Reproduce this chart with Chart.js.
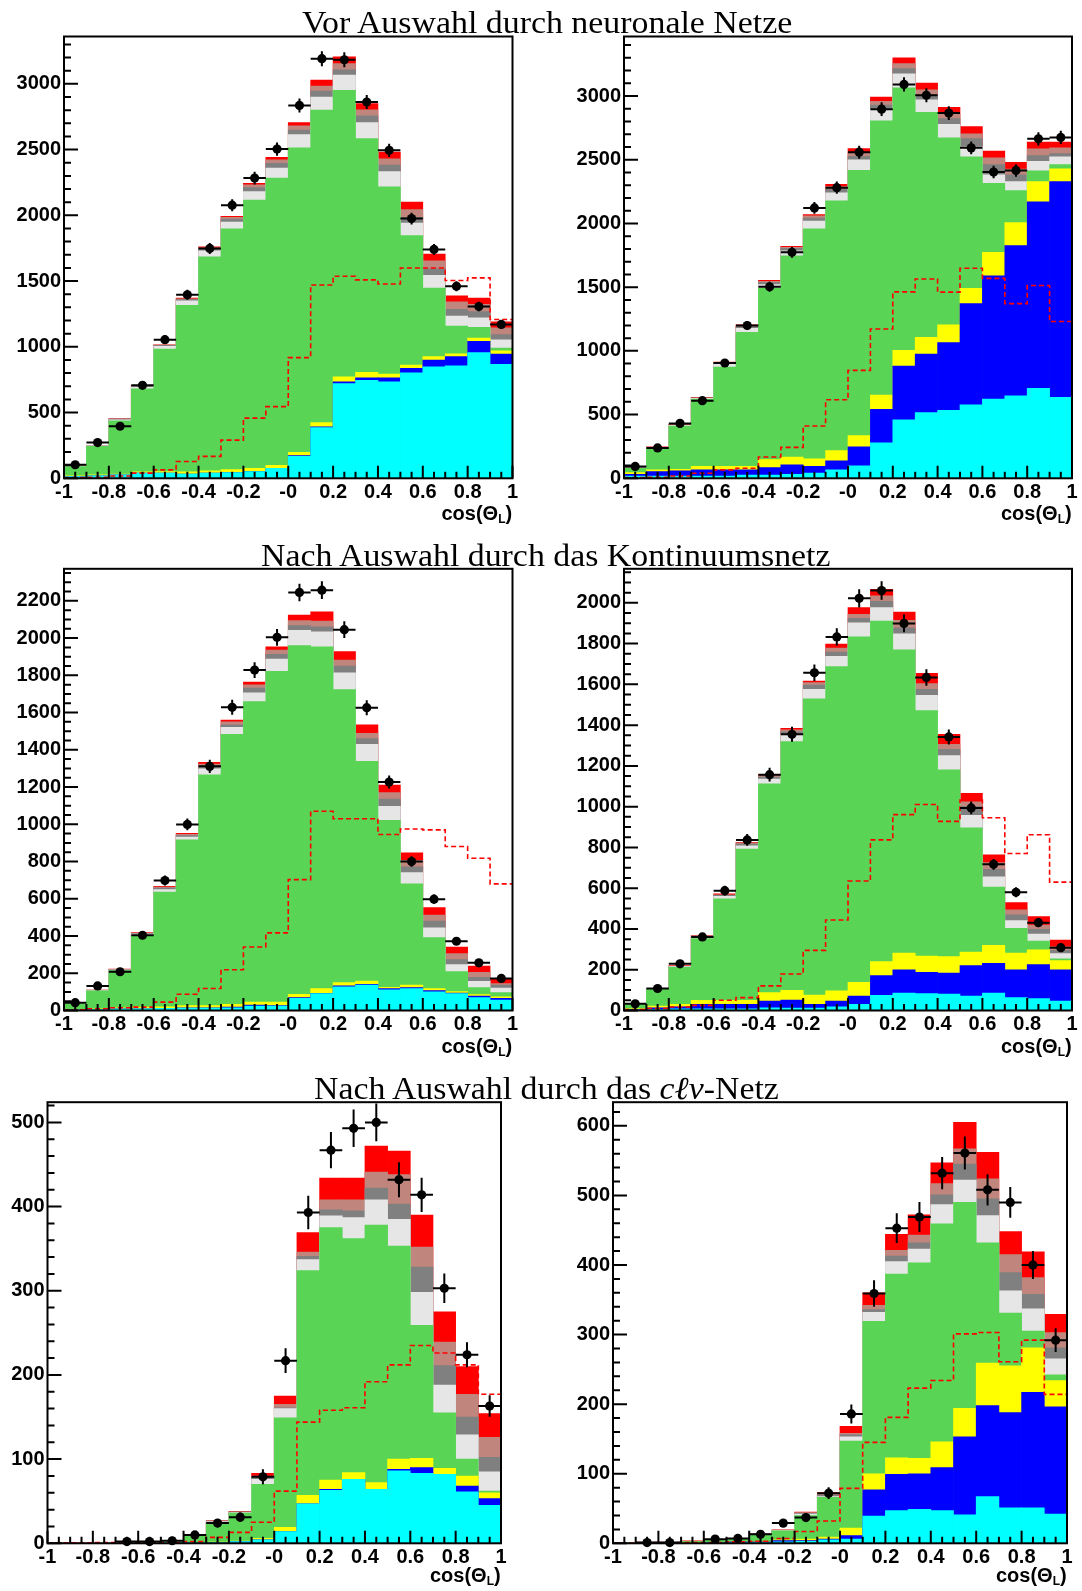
<!DOCTYPE html>
<html>
<head>
<meta charset="utf-8">
<script src="https://cdn.jsdelivr.net/npm/chart.js@4.4.1/dist/chart.umd.min.js"></script>
<style>
  body { margin: 0; background: #fff; width: 1082px; height: 1591px; position: relative; overflow: hidden; }
  canvas { position: absolute; }
  .title { position: absolute; font-family: "Liberation Serif", "DejaVu Serif", serif; font-size: 32px; line-height: 32px;
           white-space: nowrap; color: #000; transform-origin: left top; z-index: 5; }
  .xlab { position: absolute; font-family: "Liberation Sans", Arial, sans-serif; font-weight: bold; font-size: 20px;
          line-height: 20px; white-space: nowrap; color: #000; z-index: 5; }
  .xlab span { font-size: 12px; position: relative; top: 3px; }
</style>
</head>
<body>
<div class="title" data-cx="546.5" data-base="33" data-w="490">Vor Auswahl durch neuronale Netze</div>
<div class="title" data-cx="546" data-base="565.4" data-w="570">Nach Auswahl durch das Kontinuumsnetz</div>
<div class="title" data-cx="546" data-base="1098.8" data-w="465">Nach Auswahl durch das <i>cℓν</i>-Netz</div>

<script>
// bins of cos(theta_L)
const BIN_EDGES = [-1, -0.9, -0.8, -0.7, -0.6, -0.5, -0.4, -0.3, -0.2, -0.1, 0, 0.1, 0.2, 0.3, 0.4, 0.5, 0.6, 0.7, 0.8, 0.9, 1];
const X_TICKS = [-1, -0.8, -0.6, -0.4, -0.2, 0, 0.2, 0.4, 0.6, 0.8, 1];
const X_TICK_LABELS = ['-1', '-0.8', '-0.6', '-0.4', '-0.2', '-0', '0.2', '0.4', '0.6', '0.8', '1'];

// stack tops per bin (cumulative), bottom layer first

// top left: before NN selection
const p1Cyan   = [13, 18, 26, 39, 39, 33, 39, 44, 51, 75, 167, 386, 720, 746, 733, 802, 848, 856, 956, 866];
const p1Blue   = [13, 18, 26, 39, 39, 33, 39, 44, 51, 75, 172, 391, 733, 764, 764, 836, 900, 926, 1041, 944];
const p1Yellow = [18, 26, 33, 49, 51, 49, 57, 67, 75, 98, 198, 424, 771, 805, 792, 861, 926, 946, 1067, 969];
const p1Green  = [90, 244, 437, 681, 982, 1316, 1684, 1897, 2116, 2283, 2514, 2800, 2951, 2584, 2216, 1846, 1447, 1157, 1149, 990];
const p1LGray  = [92, 246, 445, 692, 1003, 1350, 1730, 1949, 2180, 2360, 2615, 2900, 3067, 2705, 2332, 1941, 1543, 1234, 1221, 1054];
const p1Gray   = [93, 247, 450, 698, 1010, 1360, 1746, 1972, 2211, 2396, 2648, 2944, 3106, 2756, 2383, 1985, 1594, 1286, 1268, 1093];
const p1Rose   = [94, 248, 452, 702, 1013, 1365, 1753, 1985, 2232, 2422, 2681, 2982, 3155, 2802, 2430, 2044, 1653, 1342, 1324, 1144];
const p1Red    = [95, 250, 455, 707, 1015, 1370, 1761, 1992, 2244, 2442, 2705, 3029, 3206, 2849, 2481, 2100, 1705, 1388, 1370, 1190];
const p1Data   = [103, 272, 396, 707, 1054, 1396, 1748, 2077, 2283, 2504, 2836, 3191, 3183, 2862, 2494, 1975, 1741, 1460, 1306, 1170];
const p1Dashed = [5, 8, 18, 39, 64, 128, 167, 290, 458, 545, 918, 1470, 1537, 1509, 1478, 1599, 1599, 1504, 1524, 1208];
const p1YTicks = [0, 500, 1000, 1500, 2000, 2500, 3000];

// top right
const p2Cyan   = [18, 18, 18, 18, 18, 26, 26, 32, 40, 66, 98, 278, 458, 516, 534, 577, 622, 648, 706, 635];
const p2Blue   = [32, 53, 58, 66, 66, 66, 85, 106, 93, 138, 246, 542, 881, 974, 1066, 1371, 1588, 1826, 2170, 2328];
const p2Yellow = [45, 66, 71, 93, 93, 93, 146, 167, 153, 217, 336, 654, 1005, 1106, 1204, 1490, 1773, 2006, 2328, 2429];
const p2Green  = [79, 238, 410, 622, 873, 1146, 1490, 1746, 1958, 2178, 2416, 2805, 3064, 2871, 2672, 2522, 2315, 2257, 2413, 2461];
const p2LGray  = [81, 241, 415, 627, 894, 1177, 1521, 1786, 2019, 2241, 2500, 2897, 3175, 2971, 2778, 2601, 2381, 2328, 2487, 2522];
const p2Gray   = [83, 243, 418, 630, 902, 1188, 1535, 1804, 2043, 2268, 2527, 2929, 3215, 3008, 2823, 2665, 2461, 2381, 2532, 2548];
const p2Rose   = [84, 244, 420, 632, 907, 1196, 1545, 1812, 2059, 2289, 2559, 2958, 3255, 3048, 2863, 2704, 2514, 2426, 2585, 2593];
const p2Red    = [85, 246, 423, 635, 913, 1204, 1553, 1820, 2069, 2307, 2588, 2992, 3300, 3101, 2911, 2760, 2567, 2479, 2638, 2638];
const p2Data   = [93, 238, 431, 609, 905, 1199, 1503, 1773, 2122, 2281, 2559, 2897, 3091, 3006, 2866, 2593, 2403, 2416, 2664, 2675];
const p2Dashed = [5, 8, 18, 40, 66, 79, 167, 243, 410, 616, 847, 1172, 1463, 1564, 1461, 1648, 1569, 1371, 1513, 1230];
const p2YTicks = [0, 500, 1000, 1500, 2000, 2500, 3000];

// middle left: after continuum net
const p3Cyan   = [2, 5, 9, 9, 11, 13, 13, 15, 24, 24, 65, 91, 127, 136, 111, 118, 100, 91, 69, 56];
const p3Blue   = [3, 5, 9, 9, 11, 15, 15, 18, 29, 27, 69, 92, 132, 140, 118, 123, 107, 94, 78, 65];
const p3Yellow = [5, 9, 15, 18, 20, 27, 27, 33, 45, 45, 87, 118, 150, 158, 125, 136, 118, 102, 85, 73];
const p3Green  = [36, 105, 214, 404, 636, 916, 1266, 1483, 1659, 1822, 1960, 1953, 1724, 1338, 1021, 680, 392, 209, 123, 96];
const p3LGray  = [38, 107, 217, 410, 649, 931, 1298, 1520, 1706, 1887, 2041, 2033, 1813, 1429, 1097, 740, 444, 247, 156, 120];
const p3Gray   = [40, 108, 219, 413, 658, 940, 1311, 1534, 1731, 1913, 2067, 2060, 1849, 1460, 1135, 771, 480, 274, 178, 136];
const p3Rose   = [41, 109, 221, 416, 663, 946, 1323, 1550, 1749, 1936, 2094, 2091, 1882, 1489, 1170, 807, 513, 305, 205, 145];
const p3Red    = [42, 110, 223, 419, 667, 952, 1333, 1559, 1764, 1953, 2123, 2141, 1927, 1534, 1211, 847, 553, 341, 238, 169];
const p3Data   = [42, 132, 208, 404, 698, 999, 1311, 1628, 1828, 2004, 2245, 2257, 2045, 1626, 1227, 800, 598, 372, 256, 172];
const p3Dashed = [4, 9, 15, 18, 45, 87, 118, 219, 341, 417, 703, 1070, 1030, 1030, 945, 975, 970, 881, 818, 680];
const p3YTicks = [0, 200, 400, 600, 800, 1000, 1200, 1400, 1600, 1800, 2000, 2200];

// middle right
const p4Cyan   = [2, 5, 8, 8, 8, 8, 13, 12, 12, 18, 30, 75, 85, 83, 80, 71, 85, 63, 58, 46];
const p4Blue   = [5, 13, 18, 30, 30, 30, 46, 51, 30, 46, 71, 171, 200, 187, 184, 220, 232, 200, 225, 199];
const p4Yellow = [8, 22, 30, 50, 50, 50, 88, 99, 76, 96, 138, 240, 282, 267, 265, 287, 320, 282, 298, 245];
const p4Green  = [30, 104, 212, 353, 548, 792, 1112, 1319, 1529, 1687, 1833, 1911, 1770, 1471, 1181, 896, 605, 403, 341, 254];
const p4LGray  = [31, 106, 215, 360, 560, 808, 1135, 1352, 1576, 1737, 1902, 1977, 1848, 1546, 1251, 958, 656, 441, 375, 279];
const p4Gray   = [32, 107, 217, 364, 565, 817, 1145, 1367, 1596, 1758, 1924, 2007, 1877, 1576, 1281, 1000, 693, 469, 398, 295];
const p4Rose   = [32, 108, 218, 367, 568, 822, 1152, 1377, 1609, 1778, 1944, 2035, 1914, 1604, 1306, 1024, 726, 494, 419, 312];
const p4Red    = [33, 109, 220, 369, 572, 825, 1157, 1384, 1616, 1798, 1977, 2066, 1955, 1654, 1355, 1065, 764, 530, 461, 345];
const p4Data   = [33, 108, 229, 361, 588, 837, 1157, 1355, 1657, 1833, 2022, 2060, 1899, 1634, 1342, 994, 717, 580, 431, 308];
const p4Dashed = [5, 10, 17, 25, 50, 63, 121, 179, 295, 444, 635, 837, 961, 1011, 928, 1032, 946, 770, 862, 630];
const p4YTicks = [0, 200, 400, 600, 800, 1000, 1200, 1400, 1600, 1800, 2000];

// bottom left: after c-l-nu net
const p5Cyan   = [0, 0, 0, 0, 0, 0.5, 0.5, 1, 2, 4, 14, 47, 63, 76, 64, 86, 83, 82, 61, 45];
const p5Blue   = [0, 0, 0, 0, 0, 0.5, 0.5, 1, 2, 4, 14, 47, 64, 76, 64, 88, 90, 82, 68, 53];
const p5Yellow = [0, 0, 0, 0, 0, 0.8, 1, 1.5, 2.5, 6, 19, 57, 75, 84, 72, 100, 101, 89, 80, 60];
const p5Green  = [0.3, 0.3, 0.5, 0.8, 1, 2, 9, 25, 36, 70, 149, 324, 375, 362, 378, 353, 259, 155, 100, 62];
const p5LGray  = [0.3, 0.3, 0.5, 0.9, 1.2, 2.2, 9.5, 25.8, 36.6, 76, 160, 337, 389, 387, 408, 385, 298, 188, 129, 85];
const p5Gray   = [0.3, 0.3, 0.5, 0.9, 1.4, 2.3, 9.8, 26.3, 37, 78, 161, 341, 396, 395, 422, 403, 328, 211, 150, 102];
const p5Rose   = [0.3, 0.3, 0.6, 1, 1.6, 2.4, 10, 26.7, 37.5, 80, 165, 346, 408, 408, 441, 438, 352, 239, 177, 126];
const p5Red    = [0.5, 0.5, 0.8, 1, 2, 2.5, 10, 27, 38, 83, 175, 369, 434, 434, 472, 466, 390, 275, 210, 154];
const p5Data   = [null, null, null, 2, 2, 3, 10, 24, 31, 79, 217, 393, 467, 493, 500, 432, 414, 303, 224, 163];
const p5Dashed = [0.5, 0.5, 1, 1, 1, 1, 2, 7, 13, 25, 62, 144, 158, 161, 192, 212, 235, 226, 212, 177];
const p5YTicks = [0, 100, 200, 300, 400, 500];

// bottom right
const p6Cyan   = [0, 0, 0, 0, 0.5, 1, 1, 2, 3, 5, 6, 39, 47, 49, 47, 41, 67, 51, 51, 42];
const p6Blue   = [0, 0, 0, 0, 1, 2, 2, 4, 4, 6, 11, 77, 99, 100, 109, 153, 198, 188, 217, 196];
const p6Yellow = [0, 0, 0, 0.5, 1, 2.5, 3, 5, 6, 9, 22, 100, 123, 122, 146, 194, 259, 255, 281, 234];
const p6Green  = [0.5, 1, 1, 3, 5, 6, 13, 18, 40, 66, 147, 319, 387, 403, 459, 490, 432, 331, 305, 242];
const p6LGray  = [0.5, 1, 1, 3, 5, 6, 13.3, 18.4, 42, 67, 153, 332, 405, 423, 487, 522, 471, 363, 337, 265];
const p6Gray   = [0.5, 1, 1, 3, 5, 6.2, 13.5, 18.7, 43, 69, 156, 336, 413, 432, 501, 545, 495, 389, 358, 281];
const p6Rose   = [0.5, 1, 1, 3, 5, 6.4, 13.8, 19, 44, 71, 158, 342, 421, 443, 517, 567, 524, 415, 382, 303];
const p6Red    = [1, 1.5, 1.5, 3.5, 5, 6.6, 14, 19.5, 45, 73, 168, 360, 444, 472, 547, 605, 562, 448, 419, 329];
const p6Data   = [null, 1, 1, null, 6, 7, 13, 29, 37, 72, 186, 359, 453, 469, 532, 561, 508, 490, 400, 292];
const p6Dashed = [0.5, 1, 1, 1, 1, 2, 3, 7, 17, 32, 79, 145, 181, 223, 234, 301, 303, 261, 292, 214];
const p6YTicks = [0, 100, 200, 300, 400, 500, 600];

const LAYER_COLORS = ['#00ffff', '#0000ff', '#ffff00', '#59d454', '#e6e6e6', '#808080', '#c0857d', '#ff0000'];
const SANS = '"Liberation Sans", Arial, sans-serif';

// plot frame positions in page pixels
const PANELS = [
  { layers: [p1Cyan, p1Blue, p1Yellow, p1Green, p1LGray, p1Gray, p1Rose, p1Red], data: p1Data, dashed: p1Dashed,
    yTicks: p1YTicks, yMax: 3360, yMinor: 100, area: { l: 64, r: 512.5, t: 36.5, b: 478.3 }, box: { x: 0 } },
  { layers: [p2Cyan, p2Blue, p2Yellow, p2Green, p2LGray, p2Gray, p2Rose, p2Red], data: p2Data, dashed: p2Dashed,
    yTicks: p2YTicks, yMax: 3467, yMinor: 100, area: { l: 624, r: 1072, t: 36.5, b: 478.3 }, box: { x: 550 } },
  { layers: [p3Cyan, p3Blue, p3Yellow, p3Green, p3LGray, p3Gray, p3Rose, p3Red], data: p3Data, dashed: p3Dashed,
    yTicks: p3YTicks, yMax: 2372, yMinor: 50, area: { l: 64, r: 512.5, t: 568.8, b: 1010.5 }, box: { x: 0 } },
  { layers: [p4Cyan, p4Blue, p4Yellow, p4Green, p4LGray, p4Gray, p4Rose, p4Red], data: p4Data, dashed: p4Dashed,
    yTicks: p4YTicks, yMax: 2167, yMinor: 50, area: { l: 624, r: 1072, t: 568.8, b: 1010.5 }, box: { x: 550 } },
  { layers: [p5Cyan, p5Blue, p5Yellow, p5Green, p5LGray, p5Gray, p5Rose, p5Red], data: p5Data, dashed: p5Dashed,
    yTicks: p5YTicks, yMax: 524, yMinor: 20, area: { l: 47.5, r: 501, t: 1102.2, b: 1543.3 }, box: { x: 0 }, labDy: 38.5 },
  { layers: [p6Cyan, p6Blue, p6Yellow, p6Green, p6LGray, p6Gray, p6Rose, p6Red], data: p6Data, dashed: p6Dashed,
    yTicks: p6YTicks, yMax: 634, yMinor: 20, area: { l: 613, r: 1067, t: 1102.2, b: 1543.3 }, box: { x: 550 }, labDy: 38.5 }
];

// ROOT style frame with inward ticks
const frameTicks = {
  id: 'frameTicks',
  afterDatasetsDraw(chart, args, opts) {
    const { ctx, chartArea: a, scales: { x, y } } = chart;
    ctx.save();
    ctx.strokeStyle = '#000';
    ctx.lineWidth = 2;
    ctx.beginPath();
    const nMinor = Math.floor(opts.yMax / opts.yMinor + 1e-6);
    for (let k = 0; k <= nMinor; k++) {
      const v = k * opts.yMinor;
      const py = y.getPixelForValue(v);
      const len = opts.yTicks.includes(v) ? 14 : 7;
      ctx.moveTo(a.left, py); ctx.lineTo(a.left + len, py);
    }
    for (let k = 0; k <= 40; k++) {
      const v = -1 + k * 0.05;
      const px = x.getPixelForValue(v);
      const len = k % 4 === 0 ? 12.5 : 6.5;
      ctx.moveTo(px, a.bottom); ctx.lineTo(px, a.bottom - len);
    }
    ctx.stroke();
    ctx.strokeRect(a.left, a.top, a.right - a.left, a.bottom - a.top);
    ctx.restore();
  }
};

// data points: bin-wide horizontal bar and sqrt(N) vertical error
const errorBars = {
  id: 'errorBars',
  afterDatasetsDraw(chart) {
    const { ctx, scales: { x, y } } = chart;
    const pts = chart.data.datasets[0].data;
    ctx.save();
    ctx.strokeStyle = '#000';
    ctx.lineWidth = 2;
    ctx.beginPath();
    pts.forEach(p => {
      const px = x.getPixelForValue(p.x);
      const py = y.getPixelForValue(p.y);
      const e = Math.sqrt(p.y);
      ctx.moveTo(x.getPixelForValue(p.lo), py); ctx.lineTo(x.getPixelForValue(p.hi), py);
      ctx.moveTo(px, y.getPixelForValue(p.y - e)); ctx.lineTo(px, y.getPixelForValue(p.y + e));
    });
    ctx.stroke();
    ctx.restore();
  }
};

function makePanel(cfg) {
  const a = cfg.area;
  const bx = cfg.box.x;
  const by = Math.floor(a.t - 24);
  const bw = Math.ceil(a.r + 22 - bx);
  const bh = Math.ceil(a.b + 36 - by);

  const canvas = document.createElement('canvas');
  canvas.width = bw; canvas.height = bh;
  canvas.style.left = bx + 'px'; canvas.style.top = by + 'px';
  canvas.style.width = bw + 'px'; canvas.style.height = bh + 'px';
  document.body.appendChild(canvas);

  const centers = BIN_EDGES.slice(0, -1).map((e, i) => (e + BIN_EDGES[i + 1]) / 2);

  const points = [];
  cfg.data.forEach((v, i) => {
    if (v !== null) points.push({ x: centers[i], y: v, lo: BIN_EDGES[i], hi: BIN_EDGES[i + 1] });
  });

  const datasets = [
    { type: 'line', data: points, showLine: false, pointRadius: 4.6, pointBackgroundColor: '#000',
      pointBorderWidth: 0, order: 0, clip: false },
    { type: 'line', data: BIN_EDGES.map((e, i) => ({ x: e, y: cfg.dashed[Math.min(i, cfg.dashed.length - 1)] })),
      borderColor: '#f00', borderWidth: 1.6, borderDash: [5, 3], stepped: 'before', pointRadius: 0,
      fill: false, order: 1 }
  ];
  cfg.layers.forEach((arr, k) => {
    datasets.push({
      type: 'bar', data: arr.map((v, i) => ({ x: centers[i], y: v })),
      backgroundColor: LAYER_COLORS[k], borderWidth: 0, barPercentage: 1, categoryPercentage: 1,
      grouped: false, order: 2 + k
    });
  });

  const tickFont = { family: SANS, size: 20, weight: 'bold' };

  new Chart(canvas.getContext('2d'), {
    type: 'bar',
    data: { datasets },
    options: {
      responsive: false, animation: false, devicePixelRatio: 1,
      layout: { padding: { left: 0, top: a.t - by, right: bx + bw - a.r, bottom: 0 } },
      plugins: {
        legend: { display: false }, tooltip: { enabled: false },
        frameTicks: { yTicks: cfg.yTicks, yMax: cfg.yMax, yMinor: cfg.yMinor }
      },
      scales: {
        x: {
          type: 'linear', min: -1, max: 1, offset: false,
          grid: { display: false, drawTicks: false }, border: { display: false },
          afterBuildTicks: s => { s.ticks = X_TICKS.map(v => ({ value: v })); },
          afterFit: s => { s.height = by + bh - a.b; },
          ticks: { autoSkip: false, maxRotation: 0, minRotation: 0, padding: 2, color: '#000', font: tickFont,
                   callback: (v, i) => X_TICK_LABELS[i] }
        },
        y: {
          type: 'linear', min: 0, max: cfg.yMax,
          grid: { display: false, drawTicks: false }, border: { display: false },
          afterBuildTicks: s => { s.ticks = cfg.yTicks.map(v => ({ value: v })); },
          afterFit: s => { s.width = a.l - bx; },
          ticks: { padding: 3, color: '#000', font: tickFont, callback: v => String(v) }
        }
      }
    },
    plugins: [frameTicks, errorBars]
  });

  // axis title, right aligned at the frame edge
  const lab = document.createElement('div');
  lab.className = 'xlab';
  lab.innerHTML = 'cos(Θ<span>L</span>)';
  document.body.appendChild(lab);
  lab.style.left = (a.r - lab.offsetWidth) + 'px';
  lab.style.top = (a.b + (cfg.labDy || 42) - 16.9) + 'px';
}

PANELS.forEach(makePanel);

document.querySelectorAll('.title').forEach(el => {
  const w = el.offsetWidth;
  const target = +el.dataset.w;
  el.style.left = (+el.dataset.cx - target / 2) + 'px';
  el.style.top = (+el.dataset.base - 26.8) + 'px';
  el.style.transform = 'scaleX(' + (target / w) + ')';
});
</script>
</body>
</html>
